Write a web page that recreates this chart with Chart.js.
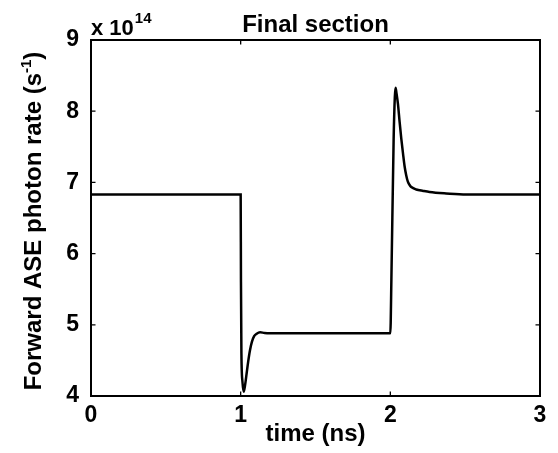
<!DOCTYPE html>
<html>
<head>
<meta charset="utf-8">
<title>Final section</title>
<script src="https://cdn.jsdelivr.net/npm/chart.js@4.4.1/dist/chart.umd.min.js"></script>
<style>
  html, body { margin:0; padding:0; background:#fff; }
  #plot { display:block; }
</style>
</head>
<body>
<canvas id="plot" width="558" height="453"></canvas>
<script>
// Forward ASE photon rate at the final section, in units of 1e14 s^-1
const EXPONENT = 14;
const timeNs = [
  0, 1.0, 1.002, 1.005, 1.012, 1.02, 1.03, 1.04, 1.05, 1.062, 1.075, 1.09, 1.107, 1.13, 1.16, 1.25,
  2.0, 2.007, 2.022, 2.03, 2.035, 2.04, 2.051, 2.062, 2.073, 2.085, 2.095, 2.106, 2.117, 2.13, 2.14,
  2.173, 2.22, 2.262, 2.373, 2.507, 3.0
];
const photonRate = [
  6.83, 6.83, 5.6, 4.6, 4.2, 4.06, 4.16, 4.32, 4.48, 4.64, 4.76, 4.84, 4.875, 4.895, 4.885, 4.88,
  4.88, 5.63, 7.6, 8.2, 8.33, 8.27, 8.1, 7.85, 7.62, 7.4, 7.23, 7.1, 7.01, 6.96, 6.935,
  6.9, 6.88, 6.865, 6.845, 6.83, 6.83
];
const xTicks = [0, 1, 2, 3];
const yTicks = [4, 5, 6, 7, 8, 9];

const FONT = '"Liberation Sans", Arial, Helvetica, sans-serif';
const TICK_LEN = 4.5;

const points = timeNs.map((t, i) => ({ x: t, y: photonRate[i] }));

// box round the axes, inward ticks on all four sides, and the text around it
const matlabFrame = {
  id: 'matlabFrame',
  afterDraw(chart){
    const ctx = chart.ctx;
    const { left, right, top, bottom } = chart.chartArea;
    const xs = chart.scales.x, ys = chart.scales.y;
    ctx.save();
    ctx.strokeStyle = '#000';
    ctx.lineWidth = 2;
    ctx.strokeRect(left, top, right - left, bottom - top);
    ctx.lineWidth = 1.3;
    ctx.beginPath();
    xTicks.forEach(v => {
      const px = xs.getPixelForValue(v);
      ctx.moveTo(px, bottom); ctx.lineTo(px, bottom - TICK_LEN);
      ctx.moveTo(px, top); ctx.lineTo(px, top + TICK_LEN);
    });
    yTicks.forEach(v => {
      const py = ys.getPixelForValue(v);
      ctx.moveTo(left, py); ctx.lineTo(left + TICK_LEN, py);
      ctx.moveTo(right, py); ctx.lineTo(right - TICK_LEN, py);
    });
    ctx.stroke();

    ctx.fillStyle = '#000';
    ctx.textBaseline = 'alphabetic';

    // title
    ctx.font = 'bold 24px ' + FONT;
    ctx.textAlign = 'center';
    ctx.fillText('Final section', (left + right) / 2, 32);

    // exponent above the y axis
    ctx.textAlign = 'left';
    ctx.font = 'bold 22px ' + FONT;
    const base = 'x 10';
    ctx.fillText(base, left, 35);
    const bw = ctx.measureText(base).width;
    ctx.font = 'bold 15px ' + FONT;
    ctx.fillText(String(EXPONENT), left + bw + 1, 23);

    // x axis title
    ctx.font = 'bold 24px ' + FONT;
    ctx.textAlign = 'center';
    ctx.fillText('time (ns)', (left + right) / 2, 441);

    // y axis title with superscript, rotated
    ctx.translate(41, (top + bottom) / 2 + 3);
    ctx.rotate(-Math.PI / 2);
    ctx.textAlign = 'left';
    const partA = 'Forward ASE photon rate (s';
    const sup = '-1';
    const partB = ')';
    ctx.font = 'bold 24px ' + FONT;
    const wA = ctx.measureText(partA).width;
    const wB = ctx.measureText(partB).width;
    ctx.font = 'bold 15px ' + FONT;
    const wS = ctx.measureText(sup).width;
    let x0 = -(wA + wS + wB) / 2;
    ctx.font = 'bold 24px ' + FONT;
    ctx.fillText(partA, x0, 0);
    ctx.font = 'bold 15px ' + FONT;
    ctx.fillText(sup, x0 + wA, -10);
    ctx.font = 'bold 24px ' + FONT;
    ctx.fillText(partB, x0 + wA + wS, 0);
    ctx.restore();
  }
};

new Chart(document.getElementById('plot').getContext('2d'), {
  type: 'line',
  data: {
    datasets: [{
      data: points,
      borderColor: '#000',
      borderWidth: 2.5,
      pointRadius: 0,
      fill: false,
      cubicInterpolationMode: 'monotone'
    }]
  },
  options: {
    responsive: false,
    animation: false,
    events: [],
    layout: { padding: { left: 0, top: 40, right: 18, bottom: 0 } },
    plugins: { legend: { display: false }, tooltip: { enabled: false }, title: { display: false } },
    scales: {
      x: {
        type: 'linear',
        min: 0, max: 3,
        afterFit(scale){ scale.height = 57; },
        afterBuildTicks(scale){ scale.ticks = xTicks.map(v => ({ value: v })); },
        grid: { display: false },
        border: { display: false },
        ticks: {
          color: '#000', padding: 0, maxRotation: 0,
          font: { family: FONT, size: 23, weight: 'bold', lineHeight: 1 },
          callback: v => String(v)
        }
      },
      y: {
        type: 'linear',
        min: 4, max: 9,
        afterFit(scale){ scale.width = 91; },
        afterBuildTicks(scale){ scale.ticks = yTicks.map(v => ({ value: v })); },
        grid: { display: false },
        border: { display: false },
        ticks: {
          color: '#000', padding: 4,
          font: { family: FONT, size: 23, weight: 'bold' },
          callback: v => String(v)
        }
      }
    }
  },
  plugins: [matlabFrame]
});
</script>
</body>
</html>
